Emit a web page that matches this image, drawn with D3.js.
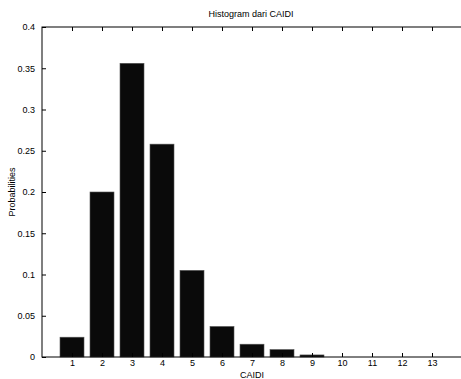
<!DOCTYPE html>
<html>
<head>
<meta charset="utf-8">
<script src="https://cdn.jsdelivr.net/npm/d3@7.9.0/dist/d3.min.js"></script>
<style>
  body { margin: 0; background: #fff; }
  svg { display: block; font-family: "Liberation Sans", Arial, sans-serif; }
</style>
</head>
<body>
<div id="chart"></div>
<script>
const categories = [1, 2, 3, 4, 5, 6, 7, 8, 9, 10, 11, 12, 13];
const probabilities = [0.024, 0.2, 0.356, 0.258, 0.105, 0.037, 0.0155, 0.009, 0.0025, 0, 0, 0, 0];
const yTicks = [0, 0.05, 0.1, 0.15, 0.2, 0.25, 0.3, 0.35, 0.4];
const yTickLabels = ["0", "0.05", "0.1", "0.15", "0.2", "0.25", "0.3", "0.35", "0.4"];

const width = 461, height = 379;
const margin = { top: 27, right: -1, bottom: 22, left: 42 };

const svg = d3.select("#chart")
  .append("svg")
  .attr("width", width)
  .attr("height", height);

const x = d3.scaleLinear()
  .domain([0, 14])
  .range([margin.left, width - margin.right]);

const y = d3.scaleLinear()
  .domain([0, 0.4])
  .range([height - margin.bottom, margin.top]);

const barW = (x(1) - x(0)) * 0.8;

// bars
svg.append("g")
  .selectAll("rect")
  .data(categories)
  .join("rect")
  .attr("x", (d, i) => x(d) - barW / 2)
  .attr("y", (d, i) => y(probabilities[i]))
  .attr("width", barW)
  .attr("height", (d, i) => y(0) - y(probabilities[i]))
  .attr("fill", "#0a0a0a")
  .attr("stroke", "#555")
  .attr("stroke-width", 0.6);

// box frame
svg.append("rect")
  .attr("x", x(0))
  .attr("y", y(0.4))
  .attr("width", x(14) - x(0))
  .attr("height", y(0) - y(0.4))
  .attr("fill", "none")
  .attr("stroke", "#000")
  .attr("stroke-width", 1);

// bottom axis
const xAxis = svg.append("g")
  .attr("transform", `translate(0,${y(0)})`)
  .call(d3.axisBottom(x).tickValues(categories).tickSize(-4).tickPadding(3).tickFormat(d3.format("d")));
xAxis.select(".domain").remove();
xAxis.selectAll("text").attr("font-size", 9).attr("fill", "#000");

// top ticks
const xTop = svg.append("g")
  .attr("transform", `translate(0,${y(0.4)})`)
  .call(d3.axisTop(x).tickValues(categories).tickSize(-4).tickFormat(""));
xTop.select(".domain").remove();

// left axis
const yAxis = svg.append("g")
  .attr("transform", `translate(${x(0)},0)`)
  .call(d3.axisLeft(y).tickValues(yTicks).tickSize(-4).tickPadding(7)
    .tickFormat((d, i) => yTickLabels[i]));
yAxis.select(".domain").remove();
yAxis.selectAll("text").attr("font-size", 9).attr("fill", "#000");

// title and labels
svg.append("text")
  .attr("x", (x(0) + x(14)) / 2 - 1)
  .attr("y", 17)
  .attr("text-anchor", "middle")
  .attr("font-size", 9)
  .text("Histogram dari CAIDI");

svg.append("text")
  .attr("x", x(7))
  .attr("y", 378)
  .attr("text-anchor", "middle")
  .attr("font-size", 9)
  .text("CAIDI");

svg.append("text")
  .attr("transform", `translate(15,${(y(0) + y(0.4)) / 2}) rotate(-90)`)
  .attr("text-anchor", "middle")
  .attr("font-size", 9)
  .text("Probabilities");
</script>
</body>
</html>
